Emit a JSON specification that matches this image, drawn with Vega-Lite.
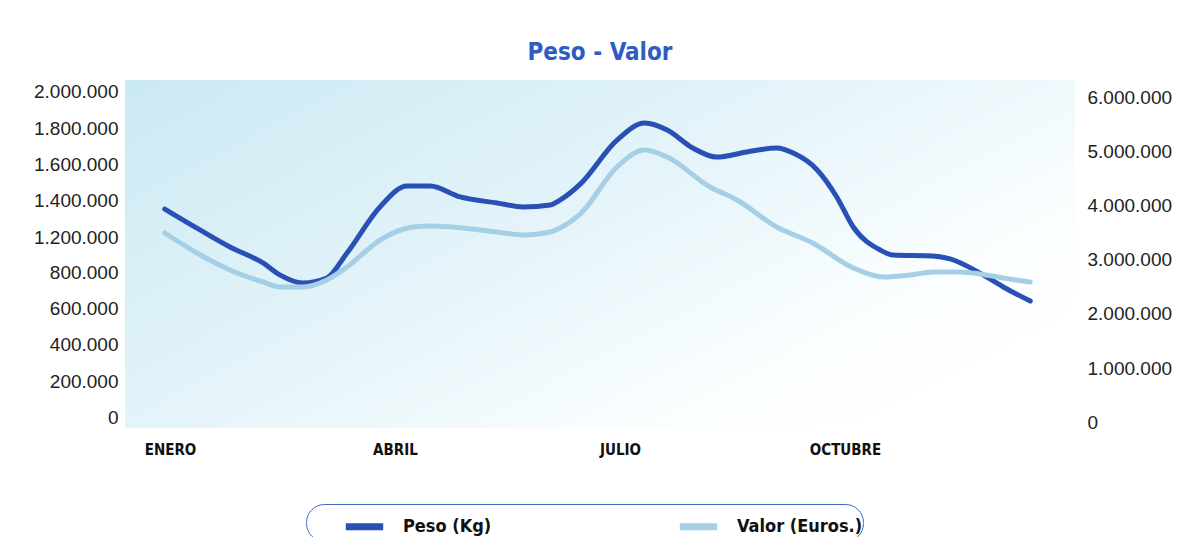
{
  "$schema": "https://vega.github.io/schema/vega-lite/v6.json",
  "autosize": {"type": "none"},
  "width": 950,
  "height": 348,
  "padding": {"left": 125, "top": 80, "right": 108, "bottom": 109},
  "background": "#ffffff",
  "title": {
    "text": "Peso - Valor",
    "color": "#2f5cc4",
    "font": "Liberation Sans Narrow, DejaVu Sans Condensed, Liberation Sans, sans-serif",
    "fontSize": 24,
    "fontWeight": "bold",
    "anchor": "middle",
    "frame": "group",
    "baseline": "alphabetic",
    "offset": -4
  },
  "datasets": {
    "peso": [
      {"mes": 0.93, "valor": 1354000, "serie": "Peso (Kg)"},
      {"mes": 1.40, "valor": 1239000, "serie": "Peso (Kg)"},
      {"mes": 1.80, "valor": 1086000, "serie": "Peso (Kg)"},
      {"mes": 2.24, "valor": 903000, "serie": "Peso (Kg)"},
      {"mes": 2.47, "valor": 783000, "serie": "Peso (Kg)"},
      {"mes": 2.77, "valor": 740000, "serie": "Peso (Kg)"},
      {"mes": 3.09, "valor": 767000, "serie": "Peso (Kg)"},
      {"mes": 3.36, "valor": 1017000, "serie": "Peso (Kg)"},
      {"mes": 3.80, "valor": 1366000, "serie": "Peso (Kg)"},
      {"mes": 4.16, "valor": 1481000, "serie": "Peso (Kg)"},
      {"mes": 4.47, "valor": 1481000, "serie": "Peso (Kg)"},
      {"mes": 4.87, "valor": 1421000, "serie": "Peso (Kg)"},
      {"mes": 5.36, "valor": 1388000, "serie": "Peso (Kg)"},
      {"mes": 5.71, "valor": 1366000, "serie": "Peso (Kg)"},
      {"mes": 6.07, "valor": 1377000, "serie": "Peso (Kg)"},
      {"mes": 6.20, "valor": 1404000, "serie": "Peso (Kg)"},
      {"mes": 6.47, "valor": 1492000, "serie": "Peso (Kg)"},
      {"mes": 6.96, "valor": 1735000, "serie": "Peso (Kg)"},
      {"mes": 7.33, "valor": 1829000, "serie": "Peso (Kg)"},
      {"mes": 7.63, "valor": 1790000, "serie": "Peso (Kg)"},
      {"mes": 7.97, "valor": 1691000, "serie": "Peso (Kg)"},
      {"mes": 8.29, "valor": 1641000, "serie": "Peso (Kg)"},
      {"mes": 8.69, "valor": 1669000, "serie": "Peso (Kg)"},
      {"mes": 9.09, "valor": 1691000, "serie": "Peso (Kg)"},
      {"mes": 9.31, "valor": 1663000, "serie": "Peso (Kg)"},
      {"mes": 9.63, "valor": 1570000, "serie": "Peso (Kg)"},
      {"mes": 9.89, "valor": 1421000, "serie": "Peso (Kg)"},
      {"mes": 10.11, "valor": 1255000, "serie": "Peso (Kg)"},
      {"mes": 10.47, "valor": 1051000, "serie": "Peso (Kg)"},
      {"mes": 10.64, "valor": 994000, "serie": "Peso (Kg)"},
      {"mes": 11.17, "valor": 983000, "serie": "Peso (Kg)"},
      {"mes": 11.40, "valor": 949000, "serie": "Peso (Kg)"},
      {"mes": 11.80, "valor": 794000, "serie": "Peso (Kg)"},
      {"mes": 12.11, "valor": 718000, "serie": "Peso (Kg)"},
      {"mes": 12.47, "valor": 641000, "serie": "Peso (Kg)"}
    ],
    "valor": [
      {"mes": 0.93, "valor": 3500000, "serie": "Valor (Euros.)"},
      {"mes": 1.36, "valor": 3130000, "serie": "Valor (Euros.)"},
      {"mes": 1.80, "valor": 2815000, "serie": "Valor (Euros.)"},
      {"mes": 2.24, "valor": 2593000, "serie": "Valor (Euros.)"},
      {"mes": 2.47, "valor": 2500000, "serie": "Valor (Euros.)"},
      {"mes": 2.77, "valor": 2500000, "serie": "Valor (Euros.)"},
      {"mes": 3.09, "valor": 2630000, "serie": "Valor (Euros.)"},
      {"mes": 3.36, "valor": 2870000, "serie": "Valor (Euros.)"},
      {"mes": 3.80, "valor": 3370000, "serie": "Valor (Euros.)"},
      {"mes": 4.24, "valor": 3611000, "serie": "Valor (Euros.)"},
      {"mes": 4.47, "valor": 3630000, "serie": "Valor (Euros.)"},
      {"mes": 4.91, "valor": 3593000, "serie": "Valor (Euros.)"},
      {"mes": 5.36, "valor": 3519000, "serie": "Valor (Euros.)"},
      {"mes": 5.71, "valor": 3463000, "serie": "Valor (Euros.)"},
      {"mes": 6.07, "valor": 3519000, "serie": "Valor (Euros.)"},
      {"mes": 6.20, "valor": 3593000, "serie": "Valor (Euros.)"},
      {"mes": 6.47, "valor": 3852000, "serie": "Valor (Euros.)"},
      {"mes": 6.96, "valor": 4722000, "serie": "Valor (Euros.)"},
      {"mes": 7.33, "valor": 5037000, "serie": "Valor (Euros.)"},
      {"mes": 7.63, "valor": 4907000, "serie": "Valor (Euros.)"},
      {"mes": 8.20, "valor": 4352000, "serie": "Valor (Euros.)"},
      {"mes": 8.56, "valor": 4111000, "serie": "Valor (Euros.)"},
      {"mes": 9.09, "valor": 3611000, "serie": "Valor (Euros.)"},
      {"mes": 9.57, "valor": 3315000, "serie": "Valor (Euros.)"},
      {"mes": 10.11, "valor": 2852000, "serie": "Valor (Euros.)"},
      {"mes": 10.51, "valor": 2685000, "serie": "Valor (Euros.)"},
      {"mes": 10.87, "valor": 2722000, "serie": "Valor (Euros.)"},
      {"mes": 11.17, "valor": 2778000, "serie": "Valor (Euros.)"},
      {"mes": 11.53, "valor": 2778000, "serie": "Valor (Euros.)"},
      {"mes": 11.80, "valor": 2741000, "serie": "Valor (Euros.)"},
      {"mes": 12.11, "valor": 2667000, "serie": "Valor (Euros.)"},
      {"mes": 12.47, "valor": 2593000, "serie": "Valor (Euros.)"}
    ]
  },
  "layer": [
    {
      "data": {"name": "peso"},
      "mark": {"type": "line", "interpolate": "monotone", "strokeWidth": 5, "strokeCap": "round"},
      "encoding": {
        "x": {
          "field": "mes", "type": "quantitative",
          "scale": {"domain": [0.4, 13.0667], "nice": false, "zero": false},
          "axis": {
            "values": [1, 4, 7, 10],
            "labelExpr": "datum.value == 1 ? 'ENERO' : datum.value == 4 ? 'ABRIL' : datum.value == 7 ? 'JULIO' : 'OCTUBRE'",
            "title": null, "grid": false, "ticks": false, "domain": false,
            "labelFont": "Liberation Sans Narrow, DejaVu Sans Condensed, Liberation Sans, sans-serif",
            "labelFontWeight": "bold", "labelFontSize": 15, "labelColor": "#111111",
            "labelPadding": 14
          }
        },
        "y": {
          "field": "valor", "type": "quantitative",
          "scale": {"domain": [-54800, 800000, 1200000, 2066200], "range": [348, 192, 157, 0], "nice": false, "zero": false},
          "axis": {
            "orient": "left",
            "values": [0, 200000, 400000, 600000, 800000, 1200000, 1400000, 1600000, 1800000, 2000000],
            "format": ",d",
            "title": null, "grid": false, "ticks": false, "domain": false,
            "labelFont": "Liberation Sans, Arial, sans-serif",
            "labelFontSize": 19, "labelColor": "#222222", "labelPadding": 7
          }
        },
        "color": {"field": "serie", "type": "nominal"}
      }
    },
    {
      "data": {"name": "valor"},
      "mark": {"type": "line", "interpolate": "monotone", "strokeWidth": 5, "strokeCap": "round"},
      "encoding": {
        "x": {"field": "mes", "type": "quantitative"},
        "y": {
          "field": "valor", "type": "quantitative",
          "scale": {"domain": [-111100, 6333300], "nice": false, "zero": false},
          "axis": {
            "orient": "right",
            "values": [0, 1000000, 2000000, 3000000, 4000000, 5000000, 6000000],
            "format": ",d",
            "title": null, "grid": false, "ticks": false, "domain": false,
            "labelFont": "Liberation Sans, Arial, sans-serif",
            "labelFontSize": 19, "labelColor": "#222222", "labelPadding": 12
          }
        },
        "color": {"field": "serie", "type": "nominal"}
      }
    }
  ],
  "resolve": {"scale": {"y": "independent"}, "axis": {"y": "independent"}},
  "encoding": {
    "color": {
      "field": "serie", "type": "nominal",
      "scale": {"domain": ["Peso (Kg)", "Valor (Euros.)"], "range": ["#2950b5", "#a5cfe5"]},
      "legend": {
        "orient": "none",
        "legendX": 181,
        "legendY": 424,
        "direction": "horizontal",
        "title": null,
        "symbolType": "stroke",
        "symbolStrokeWidth": 7,
        "symbolSize": 1400,
        "symbolOffset": 36,
        "labelFont": "Liberation Sans Narrow, DejaVu Sans Condensed, Liberation Sans, sans-serif",
        "labelFontSize": 18,
        "labelFontWeight": "bold",
        "labelColor": "#111111",
        "labelOffset": 16,
        "columnPadding": 148,
        "padding": 0,
        "strokeColor": "#3b6bbf",
        "cornerRadius": 18,
        "fillColor": "#ffffff"
      }
    }
  },
  "config": {
    "locale": {"number": {"decimal": ",", "thousands": ".", "grouping": [3], "currency": ["", " €"]}},
    "view": {
      "stroke": null,
      "fill": {
        "gradient": "linear",
        "x1": 0, "y1": 0, "x2": 1, "y2": 0.7,
        "stops": [
          {"offset": 0, "color": "#cbe9f3"},
          {"offset": 0.45, "color": "#e2f3f9"},
          {"offset": 0.85, "color": "#fbfeff"},
          {"offset": 1, "color": "#ffffff"}
        ]
      }
    }
  }
}
